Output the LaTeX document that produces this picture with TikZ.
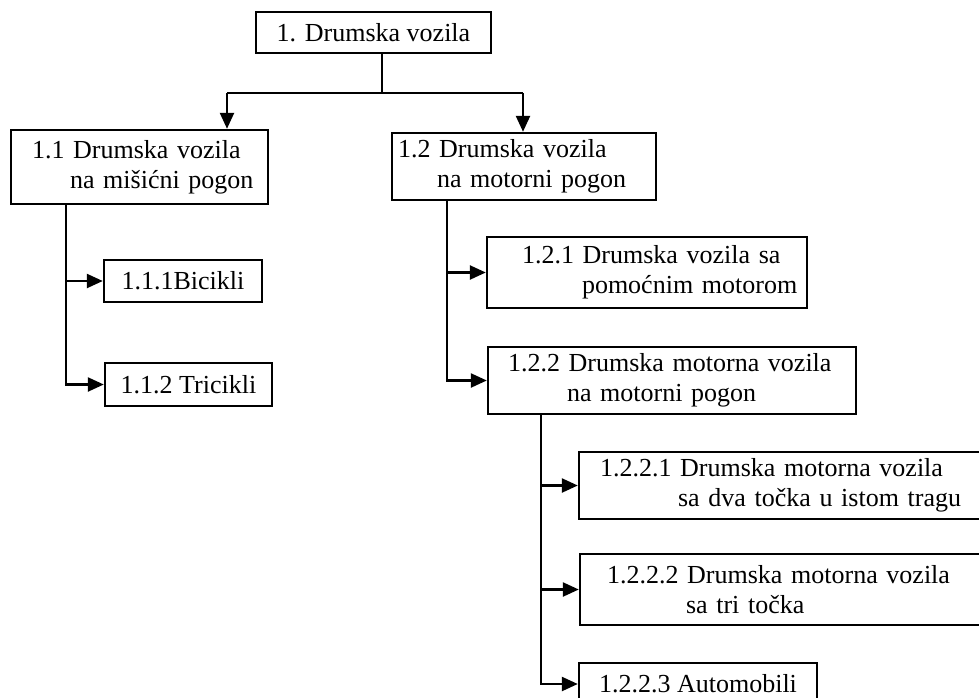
\documentclass[tikz,border=0pt]{standalone}
\usepackage{fontspec}
\setmainfont{Liberation Serif}
\usetikzlibrary{arrows.meta}

\newcommand{\boxline}[2]{\hspace*{#1}\mbox{#2}}

\begin{document}
\begin{tikzpicture}[x=1pt,y=-1pt,
    box/.style={draw,line width=2.4pt,inner sep=0pt,font=\fontsize{26}{30}\selectfont},
    lbox/.style={box,align=left,text width=#1}]
\useasboundingbox (0,0) rectangle (979,698);

% boxes, placed at their centres
\node[box,minimum width=235pt,minimum height=41pt] (root) at (373.5,32.5) {1. Drumska vozila};

\node[lbox=215pt,minimum width=257pt,minimum height=74pt] (n11) at (139.5,167)
    {\boxline{0pt}{1.1 Drumska vozila}\\\boxline{38pt}{na mišićni pogon}};
\node[lbox=252pt,minimum width=264pt,minimum height=67pt] (n12) at (524,166.5)
    {\boxline{0pt}{1.2 Drumska vozila}\\\boxline{39pt}{na motorni pogon}};

\node[box,minimum width=158pt,minimum height=42pt] (n111) at (183,281) {1.1.1Bicikli};
\node[box,minimum width=167pt,minimum height=43pt] (n112) at (188.5,384.5) {1.1.2 Tricikli};

\node[lbox=250pt,minimum width=320pt,minimum height=71pt] (n121) at (647,272.5)
    {\boxline{0pt}{1.2.1 Drumska vozila sa}\\\boxline{60pt}{pomoćnim motorom}};
\node[lbox=328pt,minimum width=368pt,minimum height=67pt] (n122) at (672,380.5)
    {\boxline{0pt}{1.2.2 Drumska motorna vozila}\\\boxline{59pt}{na motorni pogon}};

\node[lbox=374pt,minimum width=416pt,minimum height=67pt] (n1221) at (787,485.5)
    {\boxline{0pt}{1.2.2.1 Drumska motorna vozila}\\\boxline{78pt}{sa dva točka u istom tragu}};
\node[lbox=361pt,minimum width=415pt,minimum height=71pt] (n1222) at (787.5,589.5)
    {\boxline{0pt}{1.2.2.2 Drumska motorna vozila}\\\boxline{79pt}{sa tri točka}};
\node[box,minimum width=238pt,minimum height=42pt] (n1223) at (698,684) {1.2.2.3 Automobili};

% branch points
\coordinate (split) at (382,93);
\coordinate (b11) at (227,93);
\coordinate (b12) at (523,93);
\coordinate (s11) at (66,204);
\coordinate (s12) at (447,200);
\coordinate (s122) at (541,414);

\begin{scope}[line width=2.4pt,>={Triangle[length=16pt,width=14pt]}]
    \draw (root.south -| split) -- (split);
    \draw (b11) -- (b12);
    \draw[->] (b11) -- (b11 |- n11.north);
    \draw[->] (b12) -- (b12 |- n12.north);

    \draw[->] (s11 |- n111.west) -- (n111.west);
    \draw[->] (s11) |- (n112.west);

    \draw[->] (s12 |- n121.west) -- (n121.west);
    \draw[->] (s12) |- (n122.west);

    \draw[->] (s122 |- n1221.west) -- (n1221.west);
    \draw[->] (s122 |- n1222.west) -- (n1222.west);
    \draw[->] (s122) |- (n1223.west);
\end{scope}
\end{tikzpicture}
\end{document}
